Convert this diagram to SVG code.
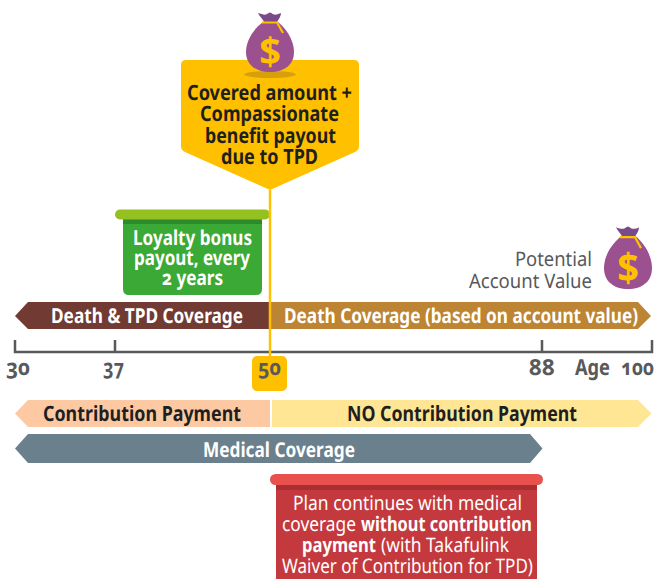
<svg xmlns="http://www.w3.org/2000/svg" xmlns:xlink="http://www.w3.org/1999/xlink" width="655" height="579" viewBox="0 0 655 579">
<style>
text{font-family:"Noto Sans","Open Sans","Liberation Sans",sans-serif;text-rendering:geometricPrecision}
.b{font-weight:700;font-size:21px}
.m{font-weight:700;font-size:20.500px}
.r{font-weight:400;font-size:20px}
.w{fill:#fff}
.k{fill:#1f1f1f}
.g{fill:#58595b}
.n{font-weight:700;font-size:22px;fill:#58595b;font-feature-settings:"onum"}
</style>
<defs>
<g id="bag">
<path d="M263 22C250 32 246 44 246 52C246 65 256 72 270 72C284 72 294 65 294 52C294 44 290 32 278 22Z" fill="#9b5090"/>
<path d="M258 13C261 14 264 15 266 14.500C268 13.500 269 12.500 270 12.500C271 12.500 272 14 274 14.500C276 15 279 14 281 13C281 16 279 19 277 22L264 22C263 19 259 16 258 13Z" fill="#7b4a88"/>
<path d="M262 22.500L277 22.500L283 33" fill="none" stroke="#ffc000" stroke-width="2.200"/>
<text x="270" y="65" text-anchor="middle" font-size="38" font-weight="700" fill="#ffc000" style="font-family:'Noto Sans',sans-serif">$</text>
</g>
</defs>

<g id="connectors">
<path d="M15 340V352H652V340M115 340V352M542 340V352" fill="none" stroke="#58595b" stroke-width="2.500"/>
</g>

<g id="node-coverage-death-tpd">
<path d="M15 316L28 302H270V329H28Z" fill="#713a33"/>
<text class="m w" x="51" y="323" textLength="192" lengthAdjust="spacingAndGlyphs">Death &amp; TPD Coverage</text>
</g>
<g id="node-coverage-death">
<path d="M270 302H638L651 316L638 329H270Z" fill="#bc8433"/>
<text class="m w" x="284" y="323" textLength="354" lengthAdjust="spacingAndGlyphs">Death Coverage (based on account value)</text>
</g>

<g id="node-covered-amount">
<path d="M186 60H354Q359 60 359 65V146Q359 150 355 152L270 190L185 152Q181 150 181 146V65Q181 60 186 60Z" fill="#ffc000"/>
<ellipse cx="270" cy="74.500" rx="26" ry="3.500" fill="#d69f0c"/>
<use xlink:href="#bag" href="#bag"/>
<text class="b k" x="187" y="100" textLength="165" lengthAdjust="spacingAndGlyphs">Covered amount +</text>
<text class="b k" x="200" y="121" textLength="139" lengthAdjust="spacingAndGlyphs">Compassionate</text>
<text class="b k" x="205" y="143" textLength="131" lengthAdjust="spacingAndGlyphs">benefit payout</text>
<text class="b k" x="221" y="164" textLength="97" lengthAdjust="spacingAndGlyphs">due to TPD</text>
</g>

<g id="node-loyalty-bonus">
<path d="M123 220H262V289Q262 295 256 295H129Q123 295 123 289Z" fill="#3ba935"/>
<rect x="123" y="219" width="139" height="5" fill="#2e8b2c"/>
<rect x="115" y="209.500" width="155" height="10" rx="5" fill="#94c11f"/>
<text class="m w" x="133" y="245" textLength="119" lengthAdjust="spacingAndGlyphs">Loyalty bonus</text>
<text class="m w" x="134" y="265" textLength="116" lengthAdjust="spacingAndGlyphs">payout, every</text>
<text class="m w" x="162" y="285" textLength="61" lengthAdjust="spacingAndGlyphs" style="font-feature-settings:'onum'">2 years</text>
</g>

<g id="node-account-value">
<use xlink:href="#bag" href="#bag" transform="translate(358 214) scale(1 1.050) translate(0 -0.500)"/>
<text class="r g" x="515" y="266" textLength="77" lengthAdjust="spacingAndGlyphs">Potential</text>
<text class="r g" x="469" y="288" textLength="123" lengthAdjust="spacingAndGlyphs">Account Value</text>
</g>

<g id="axis-labels">
<text class="n" x="6" y="375" textLength="24" lengthAdjust="spacingAndGlyphs">30</text>
<text class="n" x="103" y="375" textLength="21" lengthAdjust="spacingAndGlyphs">37</text>
<text class="n" x="529" y="375" textLength="26" lengthAdjust="spacingAndGlyphs">88</text>
<text class="n" x="575" y="375" textLength="35" lengthAdjust="spacingAndGlyphs">Age</text>
<text class="n" x="621" y="375" textLength="33" lengthAdjust="spacingAndGlyphs">100</text>
</g>

<g id="node-age-50">
<path d="M270 190V360" fill="none" stroke="#ffc000" stroke-width="2.500"/>
<rect x="252" y="356" width="35" height="35" rx="5" fill="#ffc000"/>
<text class="n" x="258" y="375" textLength="23" lengthAdjust="spacingAndGlyphs">50</text>
</g>

<g id="node-contribution">
<path d="M15 413.500L28 400H270V427H28Z" fill="#fdc9a3"/>
<text class="b k" x="43" y="421" textLength="198" lengthAdjust="spacingAndGlyphs">Contribution Payment</text>
</g>
<g id="node-no-contribution">
<path d="M272 400H638L651.500 413.500L638 427H272Z" fill="#ffe695"/>
<text class="b k" x="347" y="421" textLength="230" lengthAdjust="spacingAndGlyphs">NO Contribution Payment</text>
</g>
<g id="node-medical">
<path d="M15 448.500L28 434H530L542.500 448.500L530 463H28Z" fill="#6a808c"/>
<text class="m w" x="203" y="456.500" textLength="152" lengthAdjust="spacingAndGlyphs">Medical Coverage</text>
</g>

<g id="node-plan-continues">
<rect x="276" y="484" width="261" height="95" fill="#c4393d"/>
<rect x="276" y="484" width="261" height="6" fill="#a92f33"/>
<rect x="270" y="474" width="273" height="11" rx="5.500" fill="#e9514d"/>
<text class="r w" x="293" y="510" textLength="229" lengthAdjust="spacingAndGlyphs">Plan continues with medical</text>
<text class="r w" x="282" y="531" textLength="74" lengthAdjust="spacingAndGlyphs">coverage</text>
<text class="r w" x="361" y="531" textLength="171" lengthAdjust="spacingAndGlyphs" style="font-weight:700">without contribution</text>
<text class="r w" x="302" y="552" textLength="74" lengthAdjust="spacingAndGlyphs" style="font-weight:700">payment</text>
<text class="r w" x="381" y="552" textLength="128" lengthAdjust="spacingAndGlyphs">(with Takafulink</text>
<text class="r w" x="282" y="573" textLength="251" lengthAdjust="spacingAndGlyphs">Waiver of Contribution for TPD)</text>
</g>
</svg>
